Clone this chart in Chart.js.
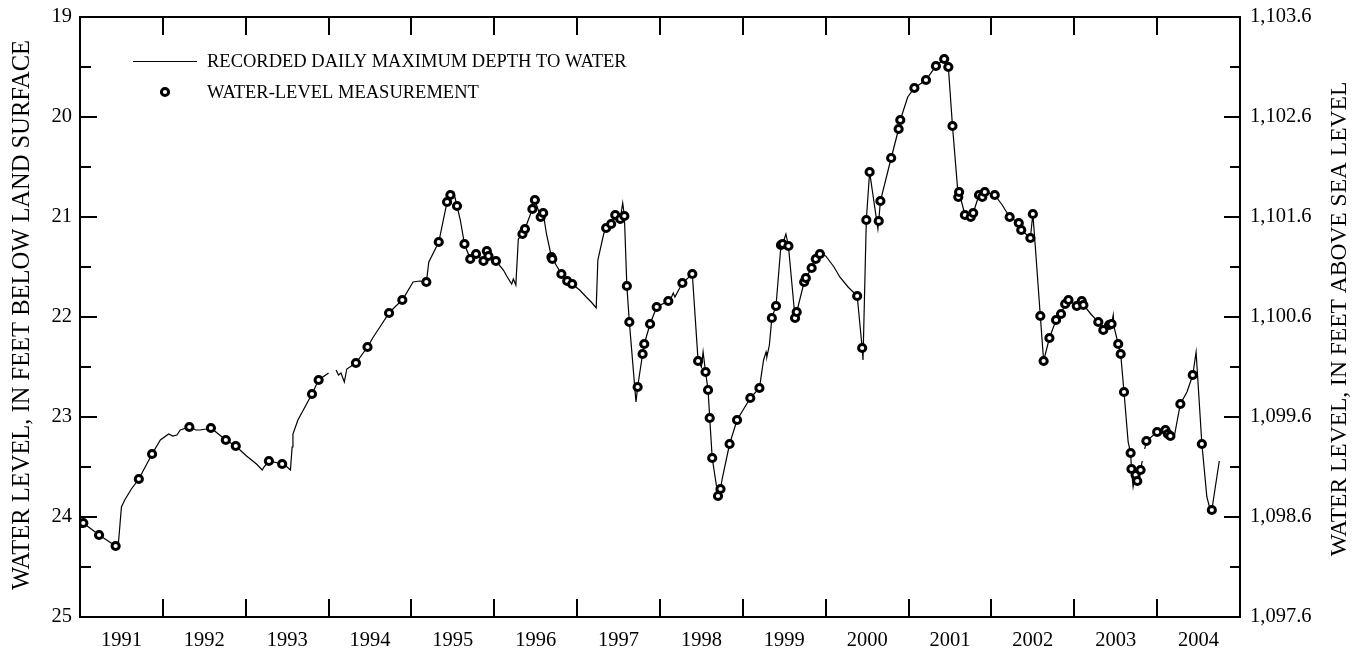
<!DOCTYPE html>
<html>
<head>
<meta charset="utf-8">
<title>Water level hydrograph 1991-2004</title>
<script src="https://cdn.jsdelivr.net/npm/chart.js@4.4.1/dist/chart.umd.min.js"></script>
<style>
  html, body { margin: 0; padding: 0; background: #fff; }
</style>
</head>
<body>
<canvas id="chart" width="1368" height="649"></canvas>
<script>
// recorded daily maximum depth to water (null = gap in record)
const lineYears = [
  1991.00, 1991.04, 1991.23, 1991.43, 1991.46, 1991.48, 1991.50, 1991.54, 1991.62, 1991.71,
  1991.87, 1991.97, 1992.07, 1992.12, 1992.17, 1992.21, 1992.32, 1992.40, 1992.45, 1992.52,
  1992.58, 1992.76, 1992.88, 1993.01, 1993.13, 1993.20, 1993.22, 1993.28, 1993.44, 1993.50,
  1993.54, 1993.56, 1993.57, 1993.63, 1993.80, 1993.88, 1994.00, 1994.05,
  1994.09, 1994.12, 1994.15, 1994.19, 1994.22, 1994.33, 1994.47, 1994.54, 1994.62, 1994.73,
  1994.80, 1994.89, 1995.02, 1995.10, 1995.18, 1995.21, 1995.33, 1995.43, 1995.47, 1995.51,
  1995.55, 1995.59, 1995.64, 1995.71, 1995.78, 1995.87, 1995.91, 1995.93, 1996.02, 1996.11,
  1996.15, 1996.21, 1996.23, 1996.26, 1996.29, 1996.34, 1996.37, 1996.46, 1996.49, 1996.56,
  1996.59, 1996.63, 1996.69, 1996.81, 1996.88, 1996.94, 1997.03, 1997.11, 1997.17, 1997.23,
  1997.25, 1997.32, 1997.35, 1997.41, 1997.46, 1997.52, 1997.55, 1997.57, 1997.60, 1997.63,
  1997.71, 1997.73, 1997.79, 1997.81, 1997.88, 1997.96, 1998.10, 1998.14, 1998.16, 1998.18,
  1998.27, 1998.39, 1998.46, 1998.50, 1998.52, 1998.55, 1998.58, 1998.60, 1998.63, 1998.70,
  1998.73, 1998.75, 1998.84, 1998.93, 1999.09, 1999.20, 1999.25, 1999.28, 1999.29, 1999.32,
  1999.35, 1999.40, 1999.46, 1999.48, 1999.52, 1999.55, 1999.63, 1999.65, 1999.74, 1999.76,
  1999.83, 1999.88, 1999.93, 2000.00, 2000.10, 2000.17, 2000.27, 2000.38, 2000.44, 2000.45,
  2000.49, 2000.53, 2000.60, 2000.63, 2000.64, 2000.66, 2000.79, 2000.88, 2000.90, 2000.99,
  2001.07, 2001.21, 2001.33, 2001.43, 2001.48, 2001.53, 2001.60, 2001.61, 2001.68, 2001.75,
  2001.78, 2001.85, 2001.89, 2001.92, 2002.04, 2002.13, 2002.22, 2002.33, 2002.36, 2002.47,
  2002.50, 2002.53, 2002.59, 2002.63, 2002.70, 2002.78, 2002.84, 2002.89, 2002.93, 2003.03,
  2003.09, 2003.11, 2003.20, 2003.29, 2003.35, 2003.42, 2003.45, 2003.47, 2003.48, 2003.53,
  2003.56, 2003.60, 2003.65, 2003.68, 2003.69, 2003.71, 2003.74, 2003.76, 2003.80, 2003.82,
  2003.835,
  2003.85, 2003.87, 2004.00, 2004.10, 2004.13, 2004.16, 2004.21, 2004.28, 2004.36, 2004.43,
  2004.47, 2004.54, 2004.60, 2004.65, 2004.66, 2004.75
];
const lineLevels = [
  24.03, 24.06, 24.18, 24.29, 24.30, 24.10, 23.90, 23.83, 23.72, 23.62,
  23.37, 23.23, 23.17, 23.19, 23.18, 23.13, 23.10, 23.13, 23.13, 23.12,
  23.11, 23.23, 23.29, 23.39, 23.47, 23.53, 23.50, 23.44, 23.47, 23.50,
  23.53, 23.30, 23.17, 23.03, 22.77, 22.63, 22.56, null,
  22.53, 22.58, 22.56, 22.65, 22.52, 22.46, 22.30, 22.20, 22.10, 21.96,
  21.90, 21.83, 21.65, 21.64, 21.65, 21.45, 21.25, 20.85, 20.78, 20.75,
  20.89, 21.03, 21.27, 21.42, 21.37, 21.44, 21.34, 21.39, 21.44, 21.53,
  21.59, 21.67, 21.62, 21.68, 21.22, 21.17, 21.12, 20.92, 20.83, 21.00,
  20.96, 21.17, 21.40, 21.57, 21.64, 21.67, 21.73, 21.80, 21.85, 21.91,
  21.43, 21.17, 21.11, 21.07, 20.98, 21.02, 20.86, 20.99, 21.69, 22.05,
  22.85, 22.70, 22.37, 22.27, 22.07, 21.90, 21.84, 21.80, 21.76, 21.80,
  21.66, 21.57, 22.44, 22.50, 22.35, 22.55, 22.73, 23.01, 23.41, 23.79,
  23.72, 23.62, 23.27, 23.03, 22.81, 22.71, 22.43, 22.35, 22.40, 22.28,
  22.01, 21.89, 21.28, 21.27, 21.17, 21.29, 22.01, 21.95, 21.65, 21.61,
  21.51, 21.42, 21.37, 21.39, 21.50, 21.60, 21.70, 21.79, 22.31, 22.43,
  21.03, 20.55, 20.95, 21.12, 21.04, 20.84, 20.41, 20.12, 20.03, 19.80,
  19.71, 19.63, 19.49, 19.42, 19.50, 20.09, 20.80, 20.75, 20.98, 21.00,
  20.96, 20.78, 20.80, 20.75, 20.78, 20.88, 21.00, 21.06, 21.13, 21.21,
  20.97, 21.30, 21.99, 22.44, 22.21, 22.03, 21.97, 21.87, 21.83, 21.89,
  21.84, 21.88, 21.97, 22.05, 22.13, 22.08, 22.07, 21.98, 22.10, 22.27,
  22.37, 22.75, 23.25, 23.36, 23.52, 23.70, 23.58, 23.64, 23.53, 23.44,
  null,
  23.32, 23.24, 23.15, 23.13, 23.17, 23.19, 23.18, 22.87, 22.75, 22.58,
  22.35, 23.27, 23.80, 23.96, 23.93, 23.44
];

// periodic water-level measurements
const measYears = [
  1991.04, 1991.23, 1991.43, 1991.71, 1991.87, 1992.32, 1992.58, 1992.76, 1992.88, 1993.28,
  1993.44, 1993.80, 1993.88, 1994.33, 1994.47, 1994.73, 1994.89, 1995.18, 1995.33, 1995.43,
  1995.47, 1995.55, 1995.64, 1995.71, 1995.78, 1995.87, 1995.91, 1995.93, 1996.02, 1996.34,
  1996.37, 1996.46, 1996.49, 1996.56, 1996.59, 1996.69, 1996.70, 1996.81, 1996.88, 1996.94,
  1997.35, 1997.41, 1997.46, 1997.52, 1997.57, 1997.60, 1997.63, 1997.73, 1997.79, 1997.81,
  1997.88, 1997.96, 1998.10, 1998.27, 1998.39, 1998.46, 1998.55, 1998.58, 1998.60, 1998.63,
  1998.70, 1998.73, 1998.84, 1998.93, 1999.09, 1999.20, 1999.35, 1999.40, 1999.46, 1999.48,
  1999.55, 1999.63, 1999.65, 1999.74, 1999.76, 1999.83, 1999.88, 1999.93, 2000.38, 2000.44,
  2000.49, 2000.53, 2000.64, 2000.66, 2000.79, 2000.88, 2000.90, 2001.07, 2001.21, 2001.33,
  2001.43, 2001.48, 2001.53, 2001.60, 2001.61, 2001.68, 2001.75, 2001.78, 2001.85, 2001.89,
  2001.92, 2002.04, 2002.22, 2002.33, 2002.36, 2002.47, 2002.50, 2002.59, 2002.63, 2002.70,
  2002.78, 2002.84, 2002.89, 2002.93, 2003.03, 2003.09, 2003.11, 2003.29, 2003.35, 2003.42,
  2003.45, 2003.53, 2003.56, 2003.60, 2003.68, 2003.69, 2003.74, 2003.76, 2003.80, 2003.87,
  2004.00, 2004.10, 2004.13, 2004.16, 2004.28, 2004.43, 2004.54, 2004.66
];
const measLevels = [
  24.06, 24.18, 24.29, 23.62, 23.37, 23.10, 23.11, 23.23, 23.29, 23.44,
  23.47, 22.77, 22.63, 22.46, 22.30, 21.96, 21.83, 21.65, 21.25, 20.85,
  20.78, 20.89, 21.27, 21.42, 21.37, 21.44, 21.34, 21.39, 21.44, 21.17,
  21.12, 20.92, 20.83, 21.00, 20.96, 21.40, 21.42, 21.57, 21.64, 21.67,
  21.11, 21.07, 20.98, 21.02, 20.99, 21.69, 22.05, 22.70, 22.37, 22.27,
  22.07, 21.90, 21.84, 21.66, 21.57, 22.44, 22.55, 22.73, 23.01, 23.41,
  23.79, 23.72, 23.27, 23.03, 22.81, 22.71, 22.01, 21.89, 21.28, 21.27,
  21.29, 22.01, 21.95, 21.65, 21.61, 21.51, 21.42, 21.37, 21.79, 22.31,
  21.03, 20.55, 21.04, 20.84, 20.41, 20.12, 20.03, 19.71, 19.63, 19.49,
  19.42, 19.50, 20.09, 20.80, 20.75, 20.98, 21.00, 20.96, 20.78, 20.80,
  20.75, 20.78, 21.00, 21.06, 21.13, 21.21, 20.97, 21.99, 22.44, 22.21,
  22.03, 21.97, 21.87, 21.83, 21.89, 21.84, 21.88, 22.05, 22.13, 22.08,
  22.07, 22.27, 22.37, 22.75, 23.36, 23.52, 23.58, 23.64, 23.53, 23.24,
  23.15, 23.13, 23.17, 23.19, 22.87, 22.58, 23.27, 23.93
];

// axes
const yearLabels = [1991, 1992, 1993, 1994, 1995, 1996, 1997, 1998, 1999, 2000, 2001, 2002, 2003, 2004];
const depthTicks = [19, 20, 21, 22, 23, 24, 25];
const elevTicks = [1097.6, 1098.6, 1099.6, 1100.6, 1101.6, 1102.6, 1103.6];

const FONT = 'Liberation Serif, Times New Roman, serif';

// frame, inward tick marks, axis titles and key
const decorations = {
  id: 'decorations',
  afterDatasetsDraw(chart) {
    const { ctx, chartArea: a, scales } = chart;
    ctx.save();
    ctx.strokeStyle = '#000';
    ctx.lineWidth = 2;
    ctx.strokeRect(a.left, a.top, a.right - a.left, a.bottom - a.top);

    ctx.beginPath();
    // year boundaries, top and bottom
    for (let yr = yearLabels[0] + 1; yr <= yearLabels[yearLabels.length - 1]; yr++) {
      const x = Math.round(scales.x.getPixelForValue(yr));
      ctx.moveTo(x, a.bottom); ctx.lineTo(x, a.bottom - 18);
      ctx.moveTo(x, a.top); ctx.lineTo(x, a.top + 18);
    }
    // depth ticks (left)
    for (let d = depthTicks[0] + 0.5; d < depthTicks[depthTicks.length - 1]; d += 0.5) {
      const y = Math.round(scales.y.getPixelForValue(d));
      const len = d % 1 === 0 ? 17 : 11;
      ctx.moveTo(a.left, y); ctx.lineTo(a.left + len, y);
    }
    // elevation ticks (right)
    for (let k = 1; k < 12; k++) {
      const y = Math.round(scales.y2.getPixelForValue(elevTicks[0] + k * 0.5));
      const len = k % 2 === 0 ? 16 : 10;
      ctx.moveTo(a.right, y); ctx.lineTo(a.right - len, y);
    }
    ctx.stroke();
    ctx.restore();
  },
  afterDraw(chart) {
    const { ctx, chartArea: a } = chart;
    const midY = (a.top + a.bottom) / 2;
    ctx.save();
    ctx.fillStyle = '#000';
    ctx.textAlign = 'center';
    ctx.textBaseline = 'middle';

    ctx.font = '24.5px ' + FONT;
    ctx.save();
    ctx.translate(23, midY - 2);
    ctx.rotate(-Math.PI / 2);
    ctx.fillText('WATER LEVEL, IN FEET BELOW LAND SURFACE', 0, 0);
    ctx.restore();

    ctx.font = '23.5px ' + FONT;
    ctx.save();
    ctx.translate(1340, midY + 2);
    ctx.rotate(-Math.PI / 2);
    ctx.fillText('WATER LEVEL, IN FEET ABOVE SEA LEVEL', 0, 0);
    ctx.restore();

    // key
    ctx.font = '18.5px ' + FONT;
    ctx.textAlign = 'left';
    ctx.strokeStyle = '#000';
    ctx.lineWidth = 1;
    ctx.beginPath();
    ctx.moveTo(133, 61.5); ctx.lineTo(197, 61.5);
    ctx.stroke();
    ctx.fillText('RECORDED DAILY MAXIMUM DEPTH TO WATER', 207, 62);

    ctx.beginPath();
    ctx.arc(165, 92, 3.6, 0, Math.PI * 2);
    ctx.fillStyle = '#fff';
    ctx.fill();
    ctx.lineWidth = 3;
    ctx.stroke();
    ctx.fillStyle = '#000';
    ctx.fillText('WATER-LEVEL MEASUREMENT', 207, 93);
    ctx.restore();
  }
};

const tickFont = { family: FONT, size: 20.5 };

new Chart(document.getElementById('chart'), {
  type: 'scatter',
  data: {
    datasets: [
      {
        label: 'WATER-LEVEL MEASUREMENT',
        data: measYears.map((t, i) => ({ x: t, y: measLevels[i] })),
        showLine: false,
        pointRadius: 3.6,
        pointBorderWidth: 3,
        pointBackgroundColor: '#fff',
        pointBorderColor: '#000'
      },
      {
        label: 'RECORDED DAILY MAXIMUM DEPTH TO WATER',
        data: lineYears.map((t, i) => ({ x: t, y: lineLevels[i] })),
        showLine: true,
        spanGaps: false,
        borderColor: '#000',
        borderWidth: 1.2,
        pointRadius: 0,
        tension: 0
      }
    ]
  },
  options: {
    responsive: false,
    animation: false,
    layout: { padding: { top: 17, left: 0, right: 0, bottom: 0 } },
    plugins: {
      legend: { display: false },
      tooltip: { enabled: false }
    },
    scales: {
      x: {
        type: 'linear',
        min: 1991,
        max: 2005,
        grid: { display: false },
        border: { display: false },
        afterBuildTicks: (s) => { s.ticks = yearLabels.map(y => ({ value: y + 0.5 })); },
        afterFit: (s) => { s.height = 32; },
        ticks: {
          autoSkip: false,
          maxRotation: 0,
          padding: 3,
          color: '#000',
          font: tickFont,
          callback: (v, i) => String(yearLabels[i])
        }
      },
      y: {
        position: 'left',
        reverse: true,
        min: 19,
        max: 25,
        grid: { display: false },
        border: { display: false },
        afterBuildTicks: (s) => { s.ticks = depthTicks.map(v => ({ value: v })); },
        afterFit: (s) => { s.width = 80; },
        ticks: {
          padding: 0,
          color: '#000',
          font: tickFont,
          callback: (v) => String(v)
        }
      },
      y2: {
        position: 'right',
        min: elevTicks[0],
        max: elevTicks[elevTicks.length - 1],
        grid: { display: false },
        border: { display: false },
        afterBuildTicks: (s) => { s.ticks = elevTicks.map(v => ({ value: v })); },
        afterFit: (s) => { s.width = 128; },
        ticks: {
          padding: 2,
          color: '#000',
          font: tickFont,
          callback: (v) => v.toLocaleString('en-US', { minimumFractionDigits: 1, maximumFractionDigits: 1 })
        }
      }
    }
  },
  plugins: [decorations]
});
</script>
</body>
</html>
